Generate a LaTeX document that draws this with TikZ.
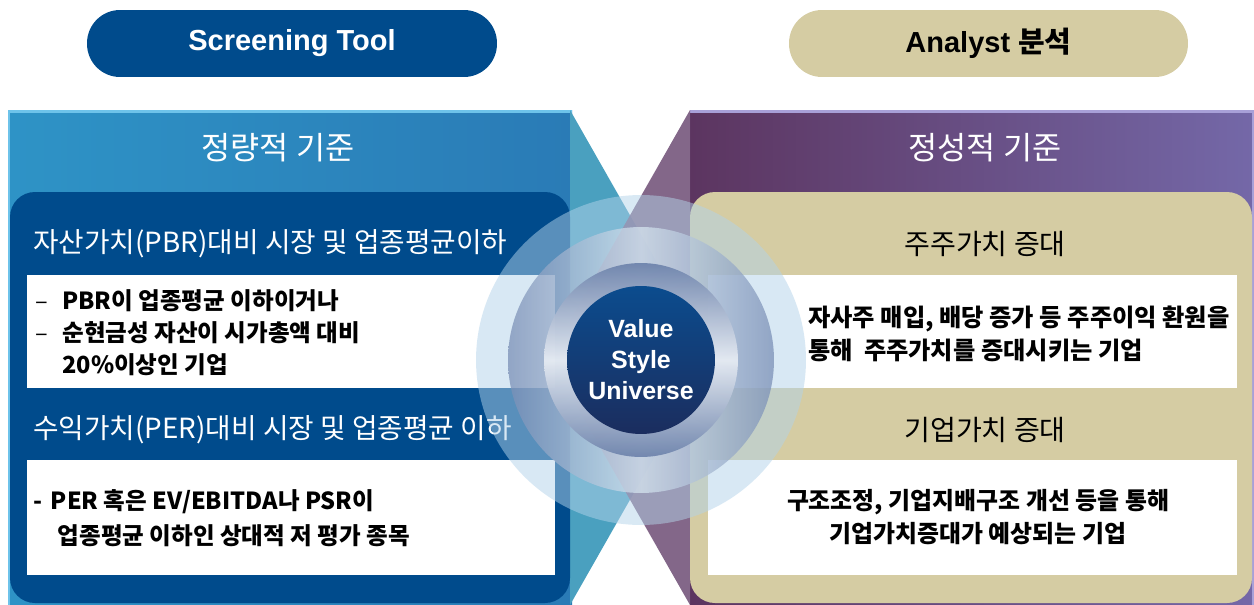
\documentclass[tikz,border=0pt]{standalone}
\usepackage{fontspec}
\setmainfont{Liberation Sans}
\newfontfamily\kr{Noto Sans CJK KR}
\usepackage{tikz}

\definecolor{navy}{HTML}{004B8C}
\definecolor{sand}{HTML}{D5CCA3}
\definecolor{skyA}{HTML}{2E93C6}
\definecolor{skyB}{HTML}{2A7BB6}
\definecolor{skyline}{HTML}{6EC3EA}
\definecolor{plumA}{HTML}{5C3560}
\definecolor{plumB}{HTML}{7468A8}
\definecolor{plumline}{HTML}{A8A0D8}
\definecolor{tealtri}{HTML}{4AA0BF}
\definecolor{mauvetri}{HTML}{76577C}
\definecolor{halo}{HTML}{B3D3EA}
\definecolor{ringgray}{HTML}{7A8FB6}
\definecolor{ringlight}{HTML}{D6E5F0}
\definecolor{innergray}{HTML}{6C82AB}
\definecolor{innerlight}{HTML}{E8EDF4}
\definecolor{coreA}{HTML}{0B4C8E}
\definecolor{coreB}{HTML}{1B2D5E}

\begin{document}
\begin{tikzpicture}[x=0.02cm, y=-0.02cm, inner sep=0pt,
    pill/.style={rounded corners=0.66cm, minimum height=1.34cm, font=\bfseries\fontsize{16.5}{19}\selectfont},
    head/.style={text=white, font=\kr\fontsize{18}{21}\selectfont},
    title/.style={anchor=west, text=white, font=\kr\fontsize{15.8}{19}\selectfont},
    sub/.style={font=\kr\fontsize{16}{19}\selectfont},
    body/.style={align=left, font=\kr\bfseries\fontsize{13.4}{18.2}\selectfont}]

    \useasboundingbox (0,0) rectangle (1254,605);

    \node[pill, fill=navy, text=white, minimum width=8.2cm] (a) at (292,43.5) {Screening Tool};
    \node[pill, fill=sand, minimum width=7.98cm] (b) at (988.5,43.5) {Analyst {\kr 분석}};

    % panels
    \fill[left color=skyA, right color=skyB] (8,110) rectangle (572,605);
    \draw[skyline, line width=0.06cm] (9,605) -- (9,111) -- (572,111);
    \fill[left color=plumA, right color=plumB] (690,110) rectangle (1254,605);
    \draw[plumline, line width=0.06cm] (690,111) -- (1253,111) -- (1253,605);
    \fill[tealtri] (570,110) -- (711,357.5) -- (570,605) -- cycle;
    \fill[mauvetri, fill opacity=0.9] (690,110) -- (549,357.5) -- (690,605) -- cycle;

    \fill[navy, rounded corners=0.5cm] (10,192) rectangle (570,603);
    \fill[sand, rounded corners=0.5cm] (690,192) rectangle (1252,603);
    \fill[white] (27,275) rectangle (555,388);
    \fill[white] (27,460) rectangle (555,575);
    \fill[white] (708,275) rectangle (1237,388);
    \fill[white] (708,460) rectangle (1237,575);

    \node[head] (c) at (278,148) {정량적 기준};
    \node[head] (d) at (985,148) {정성적 기준};

    \node[title] (e) at (33,244) {자산가치(PBR)대비 시장 및 업종평균이하};
    \node[body, anchor=north west] (f) at (35,289) {\makebox[15.4pt][l]{\mdseries –}PBR이 업종평균 이하이거나\\
        \makebox[15.4pt][l]{\mdseries –}순현금성 자산이 시가총액 대비\\
        \makebox[15.4pt][l]{}20\%이상인 기업};
    \node[title] (g) at (33,430) {수익가치(PER)대비 시장 및 업종평균 이하};
    \node[body, anchor=north west, font=\kr\bfseries\fontsize{13.4}{20}\selectfont] (h) at (33,489)
        {\makebox[10pt][l]{-}PER 혹은 EV/EBITDA나 PSR이\\
        \makebox[14pt][l]{}업종평균 이하인 상대적 저 평가 종목};

    \node[sub] (i) at (985,244) {주주가치 증대};
    \node[body, anchor=north west, font=\kr\bfseries\fontsize{13.8}{18.8}\selectfont] (j) at (808,306)
        {자사주 매입, 배당 증가 등 주주이익 환원을\\통해~~주주가치를 증대시키는 기업};
    \node[sub] (k) at (985,430) {기업가치 증대};
    \node[body, align=center, font=\kr\bfseries\fontsize{13.6}{19.2}\selectfont] (l) at (978,517)
        {구조조정, 기업지배구조 개선 등을 통해\\기업가치증대가 예상되는 기업\hspace{1.5em}};

    % centre
    \node[circle, fill=halo, fill opacity=0.5, minimum size=6.6cm] (m) at (641,360) {};
    \node[circle, left color=ringgray, right color=ringgray, middle color=ringlight, fill opacity=0.75, minimum size=5.32cm] (n) at (641,360) {};
    \node[circle, top color=innergray, bottom color=innergray, middle color=innerlight, fill opacity=0.92, minimum size=3.88cm] (o) at (641,360) {};
    \node[circle, top color=coreA, bottom color=coreB, minimum size=2.96cm, text=white, align=center,
        font=\bfseries\fontsize{14.2}{17.6}\selectfont] (p) at (641,360) {Value\\Style\\Universe};

\end{tikzpicture}
\end{document}
